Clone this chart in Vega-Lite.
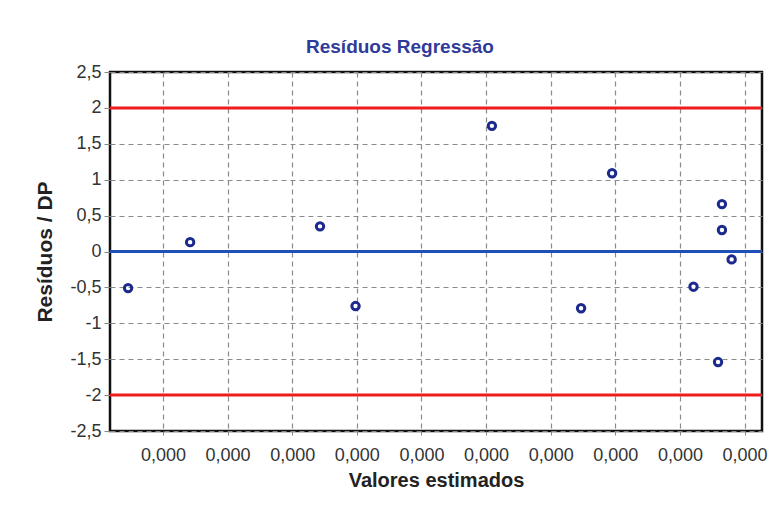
{
  "$schema": "https://vega.github.io/schema/vega-lite/v6.json",
  "width": 652,
  "height": 359,
  "autosize": {"type": "none"},
  "padding": {"left": 110, "top": 72, "right": 11, "bottom": 79},
  "background": "white",
  "title": {
    "text": "Resíduos Regressão",
    "font": "Liberation Sans",
    "fontSize": 19,
    "fontWeight": "bold",
    "color": "#2f3a9a",
    "anchor": "middle",
    "frame": "group",
    "offset": 6,
    "dx": -36
  },
  "config": {
    "view": {"stroke": "#111111", "strokeWidth": 2.5},
    "axis": {
      "labelFont": "Liberation Sans",
      "labelFontSize": 18,
      "labelColor": "#333333",
      "titleFont": "Liberation Sans",
      "titleFontSize": 20,
      "titleFontWeight": "bold",
      "titleColor": "#222222",
      "domain": false,
      "tickColor": "#888888",
      "gridColor": "#8a8a8a",
      "gridDash": [5, 4],
      "gridWidth": 1.2,
      "labelOverlap": false
    }
  },
  "datasets": {
    "pontos": [
      {"estimado": 0.46, "residuo": -0.51},
      {"estimado": 1.42, "residuo": 0.13},
      {"estimado": 3.43, "residuo": 0.35},
      {"estimado": 3.98, "residuo": -0.76},
      {"estimado": 6.09, "residuo": 1.75},
      {"estimado": 7.47, "residuo": -0.79},
      {"estimado": 7.95, "residuo": 1.09},
      {"estimado": 9.21, "residuo": -0.49},
      {"estimado": 9.65, "residuo": 0.66},
      {"estimado": 9.65, "residuo": 0.30},
      {"estimado": 9.8, "residuo": -0.11},
      {"estimado": 9.59, "residuo": -1.54}
    ],
    "referencias": [
      {"ref": 2, "tipo": "limite"},
      {"ref": -2, "tipo": "limite"},
      {"ref": 0, "tipo": "zero"}
    ]
  },
  "layer": [
    {
      "data": {"name": "pontos"},
      "mark": {"type": "point", "opacity": 0},
      "encoding": {
        "x": {
          "field": "estimado",
          "type": "quantitative",
          "scale": {"domain": [0.18, 10.27], "nice": false, "zero": false},
          "axis": {
            "title": "Valores estimados",
            "values": [1, 2, 3, 4, 5, 6, 7, 8, 9, 10],
            "labelExpr": "'0,000'",
            "labelOverlap": false,
            "tickSize": 4,
            "labelPadding": 11,
            "titlePadding": 6,
            "grid": true
          }
        },
        "y": {
          "field": "residuo",
          "type": "quantitative",
          "scale": {"domain": [-2.5, 2.5], "nice": false},
          "axis": {
            "title": "Resíduos / DP",
            "titleFontSize": 21,
            "tickCount": 10,
            "labelExpr": "replace(replace(format(datum.value, '.1~f'), '.', ','), '−', '-')",
            "labelOverlap": false,
            "labelFlush": false,
            "labelBound": false,
            "tickSize": 6,
            "labelPadding": 3,
            "titlePadding": 14,
            "grid": true
          }
        }
      }
    },
    {
      "data": {"name": "referencias"},
      "mark": {"type": "rule", "strokeWidth": 3},
      "encoding": {
        "y": {"field": "ref", "type": "quantitative"},
        "color": {
          "field": "tipo",
          "type": "nominal",
          "scale": {"domain": ["limite", "zero"], "range": ["#ee1c1c", "#1f50b8"]},
          "legend": null
        }
      }
    },
    {
      "data": {"name": "pontos"},
      "mark": {"type": "point", "shape": "circle", "filled": false, "size": 55, "strokeWidth": 3, "color": "#1b2a8c", "opacity": 1},
      "encoding": {
        "x": {"field": "estimado", "type": "quantitative"},
        "y": {"field": "residuo", "type": "quantitative"}
      }
    }
  ]
}
